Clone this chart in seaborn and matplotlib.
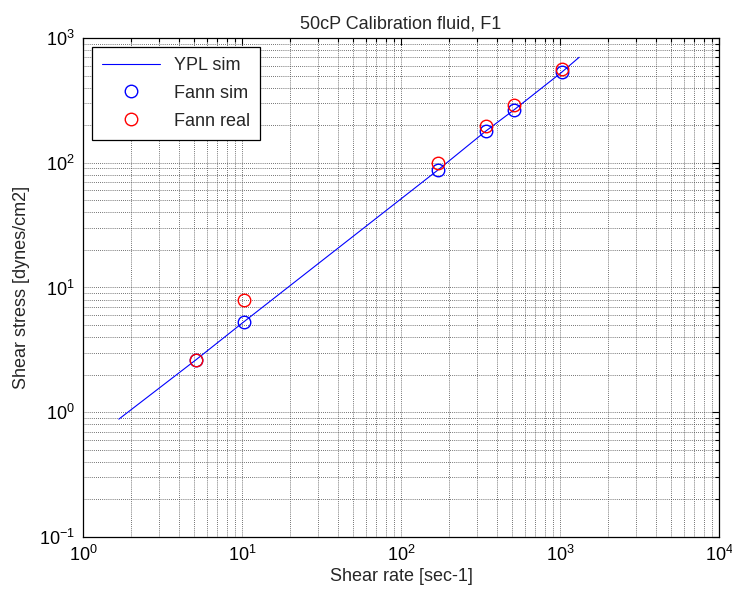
import numpy as np
import pandas as pd
import matplotlib
matplotlib.use("Agg")
import matplotlib.pyplot as plt
import seaborn as sns
from matplotlib.ticker import LogLocator, LogFormatterSciNotation, NullFormatter

# YPL model curve (shear rate in 1/s, stress in dynes/cm2)
ypl_rate = [1.68, 5.11, 10.22, 170.3, 340.6, 511.0, 1022.0, 1318.0]
ypl_stress = [0.88, 2.62, 5.28, 87.3, 179.0, 264.0, 530.0, 700.0]

# Fann viscometer readings converted to shear rate
fann_rate = [5.11, 10.22, 170.3, 340.6, 511.0, 1022.0]
fann_sim = [2.62, 5.28, 87.3, 179.0, 264.0, 530.0]
fann_real = [2.62, 7.93, 99.8, 196.0, 290.0, 562.0]

sns.set_style("white")
plt.rcParams["font.family"] = ["Liberation Sans", "DejaVu Sans"]
plt.rcParams["mathtext.fontset"] = "custom"
plt.rcParams["mathtext.rm"] = "Liberation Sans"
plt.rcParams["mathtext.it"] = "Liberation Sans:italic"

fig = plt.figure(figsize=(7.32, 6.03), dpi=100)
ax = fig.add_axes([0.1134, 0.1095, 0.8689, 0.8275])

sns.lineplot(x=ypl_rate, y=ypl_stress, ax=ax, color=(0, 0, 1), linewidth=0.8,
             label="YPL sim", sort=False, estimator=None)
sns.lineplot(x=fann_rate, y=fann_sim, ax=ax, linestyle="none", marker="o",
             markersize=9, markerfacecolor="none", markeredgecolor=(0, 0, 1),
             markeredgewidth=1.0, label="Fann sim", sort=False, estimator=None)
sns.lineplot(x=fann_rate, y=fann_real, ax=ax, linestyle="none", marker="o",
             markersize=9, markerfacecolor="none", markeredgecolor=(1, 0, 0),
             markeredgewidth=1.0, label="Fann real", sort=False, estimator=None)

ax.set_xscale("log")
ax.set_yscale("log")
ax.set_xlim(1, 1e4)
ax.set_ylim(0.1, 1e3)

for axis in (ax.xaxis, ax.yaxis):
    axis.set_major_locator(LogLocator(base=10, numticks=10))
    axis.set_minor_locator(LogLocator(base=10, subs=np.arange(2, 10), numticks=20))
    axis.set_major_formatter(LogFormatterSciNotation(base=10))
    axis.set_minor_formatter(NullFormatter())

ax.grid(True, which="both", color="#444444", linestyle=(0, (1, 1.5)), linewidth=0.6)
ax.tick_params(which="both", direction="in", top=True, right=True,
               colors="black", labelsize=13, width=0.8)
ax.tick_params(which="major", length=5, pad=6)
ax.tick_params(which="minor", length=3)
for s in ax.spines.values():
    s.set_color("black")
    s.set_linewidth(0.9)

ax.set_title("50cP Calibration fluid, F1", fontsize=13, pad=7)
ax.set_xlabel("Shear rate [sec-1]", fontsize=13, labelpad=2)
ax.set_ylabel("Shear stress [dynes/cm2]", fontsize=13, labelpad=6)

leg = ax.legend(loc="upper left", fontsize=13, frameon=True, fancybox=False,
                edgecolor="black", framealpha=1, handlelength=3.2,
                borderaxespad=0.5, labelspacing=0.6, borderpad=0.55)
leg.get_frame().set_linewidth(0.9)

fig.savefig("out.png", dpi=100)
